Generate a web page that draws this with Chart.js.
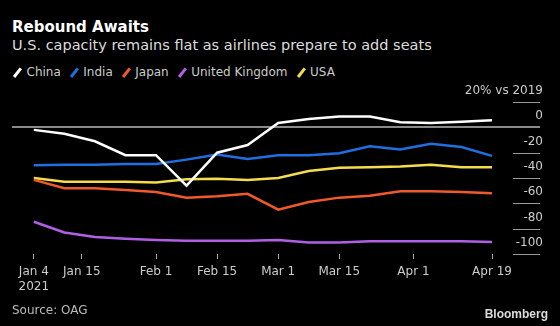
<!DOCTYPE html>
<html>
<head>
<meta charset="utf-8">
<script src="https://cdn.jsdelivr.net/npm/chart.js@4.4.0/dist/chart.umd.min.js"></script>
<style>
  body { margin: 0; background: #000; }
  #wrap { position: relative; width: 560px; height: 326px; overflow: hidden; background: #000; font-family: "DejaVu Sans", sans-serif; }
  #title { position: absolute; left: 12px; top: 19px; color: #fff; font-weight: bold; font-size: 15px; line-height: 16px; }
  #subtitle { position: absolute; left: 12px; top: 37px; color: #ddd; font-size: 14.5px; line-height: 16px; }
  #legend { position: absolute; left: 13px; top: 64px; color: #ccc; font-size: 12px; line-height: 16px; display: flex; }
  #legend .item { margin-right: 9px; display: flex; align-items: center; }
  #legend .sw { display: inline-block; width: 2.5px; height: 11px; transform: rotate(38deg); margin-right: 8px; margin-left: 3px; }
  #source { position: absolute; left: 12px; top: 302px; color: #bbb; font-size: 12px; line-height: 16px; }
  #brand { position: absolute; right: 12px; top: 306px; color: #ddd; font-size: 12px; font-weight: bold; line-height: 16px; font-family: "Liberation Sans", sans-serif; }
  canvas { position: absolute; left: 0; top: 0; }
</style>
</head>
<body>
<div id="wrap">
  <div id="title">Rebound Awaits</div>
  <div id="subtitle">U.S. capacity remains flat as airlines prepare to add seats</div>
  <div id="legend"></div>
  <canvas id="chart" width="560" height="326"></canvas>
  <div id="source">Source: OAG</div>
  <div id="brand">Bloomberg</div>
</div>
<script>
// weekly observations, % vs 2019
var dates = ["2021-01-04", "2021-01-11", "2021-01-18", "2021-01-25", "2021-02-01", "2021-02-08",
  "2021-02-15", "2021-02-22", "2021-03-01", "2021-03-08", "2021-03-15", "2021-03-22",
  "2021-03-29", "2021-04-05", "2021-04-12", "2021-04-19"];
var china = [-2, -5, -11, -22, -22, -46, -20, -14, 3.5, 6.5, 8.5, 8.5, 4, 3.5, 4.5, 5.5];
var india = [-30, -29.5, -29.5, -29, -29, -25.5, -21.5, -25, -22, -22, -20.5, -15, -17.5, -13, -15.5, -22.5];
var japan = [-41.5, -48, -48, -49.5, -51, -55.5, -54.5, -52.5, -65, -59, -55.5, -54, -50.5, -50.5, -51, -52];
var uk = [-74.5, -83, -86.5, -88, -89, -89.5, -89.5, -89.5, -89, -91, -91, -90, -90, -90, -90, -90.5];
var usa = [-40, -43, -43, -43, -43.5, -41, -40.5, -41.5, -40, -34.5, -32, -31.5, -31, -29.5, -31.5, -31.5];

var xTickDates = ["2021-01-04", "2021-01-15", "2021-02-01", "2021-02-15", "2021-03-01", "2021-03-15", "2021-04-01", "2021-04-19"];
var xTickLabels = [["Jan 4", "2021"], "Jan 15", "Feb 1", "Feb 15", "Mar 1", "Mar 15", "Apr 1", "Apr 19"];
var yTicks = [20, 0, -20, -40, -60, -80, -100];

var series = [
  { name: "China", values: china, color: "#ffffff" },
  { name: "India", values: india, color: "#1f6fe0" },
  { name: "Japan", values: japan, color: "#f05a2a" },
  { name: "United Kingdom", values: uk, color: "#b160e6" },
  { name: "USA", values: usa, color: "#f3dc4e" }
];

var DAY = 86400000;
var start = Date.parse("2021-01-04");
function dayOf(d) { return (Date.parse(d) - start) / DAY; }

// legend
var leg = document.getElementById("legend");
series.forEach(function (s) {
  var it = document.createElement("span");
  it.className = "item";
  it.innerHTML = '<span class="sw" style="background:' + s.color + '"></span>' + s.name;
  leg.appendChild(it);
});

// short right-side tick lines
var sideTicks = {
  id: "sideTicks",
  afterDraw: function (chart) {
    var y = chart.scales.y, ctx = chart.ctx, r = chart.chartArea.right;
    ctx.save();
    ctx.strokeStyle = "#999";
    ctx.lineWidth = 1;
    yTicks.forEach(function (v) {
      if (v === 0) return;
      var py = Math.round(y.getPixelForValue(v)) + 0.5;
      ctx.beginPath();
      ctx.moveTo(r - 27, py);
      ctx.lineTo(r, py);
      ctx.stroke();
    });
    ctx.restore();
  }
};

var ctx = document.getElementById("chart").getContext("2d");
var chart = new Chart(ctx, {
  type: "line",
  data: {
    datasets: series.map(function (s) {
      return {
        label: s.name,
        data: s.values.map(function (v, i) { return { x: dayOf(dates[i]), y: v }; }),
        borderColor: s.color,
        borderWidth: 2.5,
        pointRadius: 0,
        tension: 0
      };
    })
  },
  options: {
    responsive: false,
    animation: false,
    layout: { padding: { left: 12, right: 20, top: 102, bottom: 0 } },
    plugins: { legend: { display: false }, tooltip: { enabled: false } },
    scales: {
      x: {
        type: "linear",
        min: -5,
        max: 116,
        afterBuildTicks: function (scale) {
          scale.ticks = xTickDates.map(function (d) { return { value: dayOf(d) }; });
        },
        afterFit: function (scale) { scale.height = 72; },
        grid: { drawOnChartArea: false, drawTicks: true, tickLength: 5, tickColor: "#aaa", tickWidth: 1 },
        border: { display: false },
        ticks: {
          autoSkip: false,
          maxRotation: 0,
          padding: 5,
          color: "#ccc",
          font: { family: "DejaVu Sans", size: 12, lineHeight: 1.25 },
          callback: function (v) {
            var i = xTickDates.findIndex(function (d) { return dayOf(d) === v; });
            return i >= 0 ? xTickLabels[i] : "";
          }
        }
      },
      y: {
        position: "right",
        min: -100,
        max: 20,
        afterBuildTicks: function (scale) {
          scale.ticks = yTicks.map(function (v) { return { value: v }; });
        },
        afterFit: function (scale) { scale.width = 0; },
        grid: {
          drawTicks: false,
          color: function (c) { return c.tick && c.tick.value === 0 ? "#8a8a8a" : "rgba(0,0,0,0)"; },
          lineWidth: 2
        },
        border: { display: false },
        ticks: {
          mirror: true,
          padding: 3,
          labelOffset: -11,
          color: "#ccc",
          font: { family: "DejaVu Sans", size: 12 },
          callback: function (v) { return v === 20 ? "20% vs 2019" : v; }
        }
      }
    }
  },
  plugins: [sideTicks]
});
</script>
</body>
</html>
